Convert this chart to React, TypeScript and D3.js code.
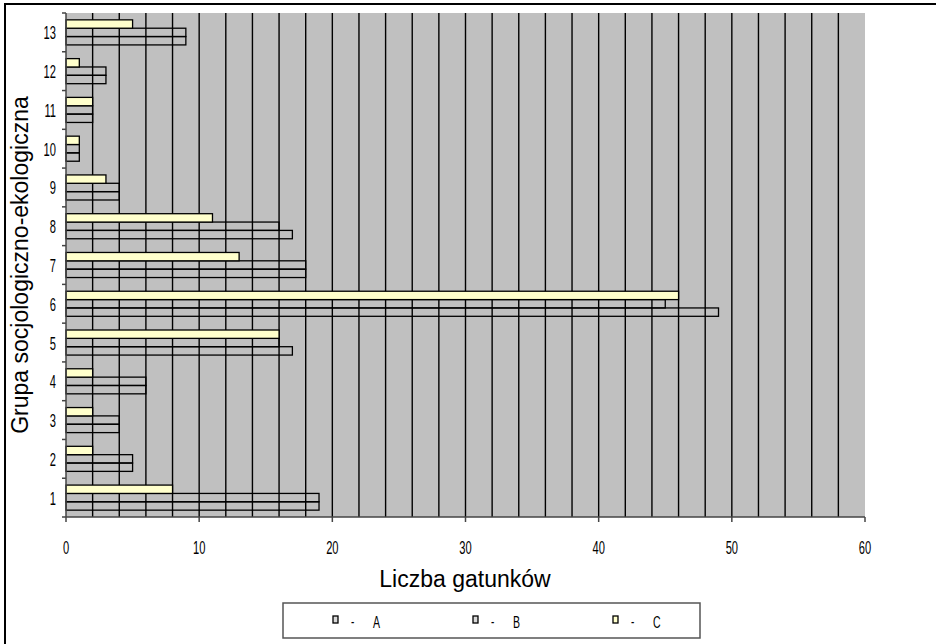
import * as d3 from 'd3';

const categories = ['1', '2', '3', '4', '5', '6', '7', '8', '9', '10', '11', '12', '13'];
const seriesNames = ['A', 'B', 'C'];
const valuesA = [19, 5, 4, 6, 17, 49, 18, 17, 4, 1, 2, 3, 9];
const valuesB = [19, 5, 4, 6, 16, 45, 18, 16, 4, 1, 2, 3, 9];
const valuesC = [8, 2, 2, 2, 16, 46, 13, 11, 3, 1, 2, 1, 5];
const xTicks = [0, 10, 20, 30, 40, 50, 60];

const W = 936;
const H = 644;
const left = 66;
const right = 865;
const top = 13;
const bottom = 517;

const sans = '"Liberation Sans", Arial, sans-serif';

// squeezed text, the original uses a condensed face for ticks and legend
function Narrow({ x, y, anchor = 'start', size = 15, children }: { x: number; y: number; anchor?: string; size?: number; children: any }) {
  return (
    <text
      transform={`translate(${x},${y}) scale(0.62,1)`}
      textAnchor={anchor}
      fontFamily={sans}
      fontSize={size}
      fill="#000"
    >
      {children}
    </text>
  );
}

export default function App() {
  const x = d3.scaleLinear().domain([0, 60]).range([left, right]);
  const y = d3.scaleBand<string>().domain([...categories].reverse()).range([top, bottom]);
  // inside each group: C on top, then B, A at the bottom
  const inner = d3.scaleBand<string>().domain(['C', 'B', 'A']).range([0, y.bandwidth()]).paddingOuter(0.82);

  const series = [
    { key: 'A', values: valuesA, fill: 'none' },
    { key: 'B', values: valuesB, fill: 'none' },
    { key: 'C', values: valuesC, fill: '#ffffcc' },
  ];
  const grid = d3.range(2, 60, 2);
  const boundaries = d3.range(0, categories.length + 1).map(i => top + i * y.step());

  const legendX = 283;
  const legendY = 603;
  const legendW = 417;
  const legendH = 35;

  return (
    <svg width={W} height={H} style={{ position: 'absolute', left: 0, top: 0, background: '#fff' }}>
      <rect x={5} y={4} width={W + 20} height={H + 20} fill="#fff" stroke="#000" strokeWidth={2} />

      {/* plot area */}
      <rect x={left} y={top} width={right - left} height={bottom - top} fill="#c0c0c0" />
      {grid.map(v => (
        <line key={v} x1={x(v)} x2={x(v)} y1={top} y2={bottom} stroke="#000" strokeWidth={1.4} />
      ))}

      {/* bars */}
      {series.map(s =>
        categories.map((c, i) => (
          <rect
            key={s.key + c}
            x={x(0)}
            y={(y(c) ?? 0) + (inner(s.key) ?? 0)}
            width={x(s.values[i]) - x(0)}
            height={inner.bandwidth()}
            fill={s.fill}
            stroke="#000"
            strokeWidth={1.3}
          />
        ))
      )}

      {/* axes */}
      <line x1={left} x2={left} y1={top} y2={bottom} stroke="#444" strokeWidth={1.5} />
      <line x1={left} x2={right} y1={bottom} y2={bottom} stroke="#444" strokeWidth={1.5} />
      {boundaries.map((b, i) => (
        <line key={i} x1={left - 4} x2={left} y1={b} y2={b} stroke="#444" strokeWidth={1.5} />
      ))}
      {xTicks.map(v => (
        <g key={v}>
          <line x1={x(v)} x2={x(v)} y1={bottom} y2={bottom + 5} stroke="#444" strokeWidth={1.5} />
          <Narrow x={x(v)} y={bottom + 37} anchor="middle" size={18}>
            {v}
          </Narrow>
        </g>
      ))}
      {categories.map(c => (
        <Narrow key={c} x={56} y={(y(c) ?? 0) + y.bandwidth() / 2 + 7} anchor="end" size={18}>
          {c}
        </Narrow>
      ))}

      <text x={465} y={587} textAnchor="middle" fontFamily={sans} fontSize={23}>
        Liczba gatunków
      </text>
      <text
        transform={`translate(28, ${(top + bottom) / 2}) rotate(-90)`}
        textAnchor="middle"
        fontFamily={sans}
        fontSize={23}
      >
        Grupa socjologiczno-ekologiczna
      </text>

      {/* legend */}
      <rect x={legendX} y={legendY} width={legendW} height={legendH} fill="#fff" stroke="#555" strokeWidth={1.5} />
      {seriesNames.map((name, i) => {
        const sx = legendX + 50 + i * 140;
        const fill = name === 'C' ? '#ffffcc' : '#d8d8d8';
        return (
          <g key={name}>
            <rect x={sx} y={legendY + 13} width={5} height={7} fill={fill} stroke="#000" strokeWidth={1.3} />
            <Narrow x={sx + 18} y={legendY + 24} size={16}>-</Narrow>
            <Narrow x={sx + 40} y={legendY + 25} size={17}>{name}</Narrow>
          </g>
        );
      })}
    </svg>
  );
}
